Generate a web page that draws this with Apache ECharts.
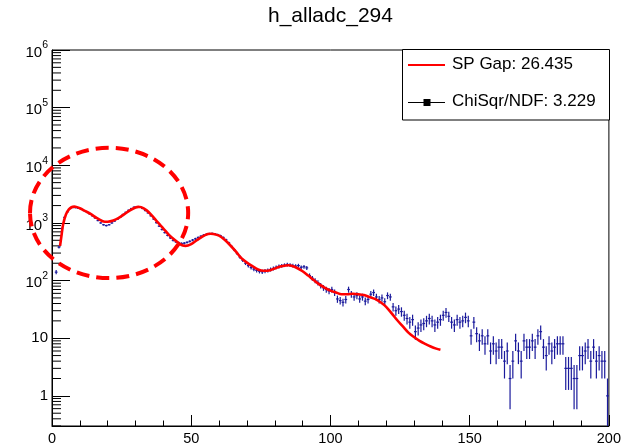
<!DOCTYPE html>
<html>
<head>
<meta charset="utf-8">
<script src="https://cdn.jsdelivr.net/npm/echarts@6/dist/echarts.min.js"></script>
<style>
html, body { margin: 0; padding: 0; background: #fff; }
#chart { width: 624px; height: 446px; }
</style>
</head>
<body>
<div id="chart"></div>
<script>
// histogram h_alladc_294: bins of width 1 starting at 0
const binStart = 0;
const binWidth = 1;
const counts = [
    null, 140, 380, 800, 1250, 1550, 1780, 1850, 1840, 1790,
    1720, 1640, 1550, 1440, 1330, 1220, 1100, 1000, 930, 900,
    930, 1000, 1080, 1160, 1260, 1400, 1530, 1660, 1780, 1880,
    1900, 1870, 1780, 1640, 1490, 1330, 1170, 1010, 880, 770,
    680, 610, 550, 500, 470, 450, 440, 445, 460, 480,
    505, 530, 560, 590, 615, 635, 650, 655, 645, 625,
    600, 560, 510, 450, 390, 340, 295, 255, 225, 200,
    182, 168, 158, 150, 145, 142, 146, 150, 156, 162,
    170, 176, 180, 185, 190, 186, 182, 178, 182, 170,
    174, 166, 122, 110, 100, 92, 82, 75, 70, 66,
    70, 62, 48, 45, 42, 47, 70, 58, 52, 55,
    48, 52, 44, 47, 58, 62, 52, 47, 50, 43,
    55, 52, 35, 30, 32, 29, 25, 22, 19, 21,
    13, 15, 17, 18, 20, 22, 20, 17, 19, 21,
    25, 28, 24, 19, 17, 21, 19, 20, 23, 20,
    11, 19, 12, 9, 11, 8, 11, 6, 8, 6,
    7, 7, 4, 6, 2, 4, 9, 6, 4, 9,
    7, 7, 9, 7, 11, 13, 7, 5, 8, 6,
    7, 8, 8, 8, 3, 3, 3, 2, 2, 5,
    5, 6, 7, 4, 7, 4, 5, 4, 4, 1
];

// fit curve
const fitX = [2.9, 3.5, 4, 5, 6, 7, 8, 9, 10,
    12, 14, 16, 18, 19, 20, 22, 24, 26, 28,
    30, 31, 32, 34, 36, 38, 40, 42, 44, 46,
    47, 48, 50, 52, 54, 56, 57, 58, 60, 62,
    64, 66, 68, 70, 72, 74, 76, 78, 80, 82,
    84, 85, 86, 88, 90, 92, 94, 96, 98, 100,
    102, 104, 106, 108, 110, 112, 114, 116, 118, 120,
    122, 124, 126, 128, 130, 132, 134, 136, 138, 139.5];
const fitY = [400, 650, 950, 1400, 1700, 1870, 1920, 1880, 1800,
    1600, 1420, 1220, 1080, 1050, 1050, 1100, 1220, 1420, 1650,
    1850, 1900, 1880, 1650, 1330, 1020, 800, 620, 510, 430,
    405, 400, 430, 500, 580, 640, 650, 645, 600, 510,
    410, 320, 245, 205, 178, 156, 148, 150, 162, 175,
    183, 184, 180, 165, 145, 122, 102, 86, 75, 67,
    62, 58, 58, 59, 58, 56, 52, 48, 42, 35,
    27, 20.5, 16, 12.5, 10.5, 9, 8, 7.2, 6.6, 6.3];

const xMin = 0, xMax = 200, xStep = 50;
const yMin = 0.3, yMax = 1e6;
const legendTexts = ['SP Gap: 26.435', 'ChiSqr/NDF: 3.229'];

// dashed ellipse marking the first two peaks (centre in data units, radii in x units / decades)
const ellipseCenter = [20.5, 1490];
const ellipseRadius = [28.4, 1.13];

const font = 'Liberation Sans, Arial, Helvetica, sans-serif';
const dataColor = '#1a1a9c';
const fitColor = '#ff0000';

// build series data
const histData = [];
counts.forEach((c, i) => {
    if (c > 0) histData.push([binStart + (i + 0.5) * binWidth, c]);
});
const fitData = fitX.map((x, i) => [x, fitY[i]]);

// minor ticks of the log axis: 2..9 in each decade
const minorTicks = [];
for (let e = -1; e < 6; e++) {
    for (let k = 2; k < 10; k++) {
        const v = k * Math.pow(10, e);
        if (v >= yMin && v < yMax) minorTicks.push([xMin, v]);
    }
}

// error bars (ROOT style crosses, sqrt(N) errors)
const renderErrors = (params, api) => {
    const x = api.value(0), y = api.value(1);
    const err = Math.sqrt(y);
    const top = api.coord([x, y + err]);
    const bot = api.coord([x, Math.max(y - err, yMin)]);
    const left = api.coord([x - binWidth / 2, y]);
    const right = api.coord([x + binWidth / 2, y]);
    const style = { stroke: dataColor, lineWidth: 1.2 };
    return {
        type: 'group',
        children: [
            { type: 'line', shape: { x1: top[0], y1: top[1], x2: bot[0], y2: bot[1] }, style: style },
            { type: 'line', shape: { x1: left[0], y1: left[1], x2: right[0], y2: right[1] }, style: style }
        ]
    };
};

const renderMinorTick = (params, api) => {
    const p = api.coord([api.value(0), api.value(1)]);
    return {
        type: 'line',
        shape: { x1: p[0], y1: p[1], x2: p[0] + 9, y2: p[1] },
        style: { stroke: '#000', lineWidth: 1 }
    };
};

const renderEllipse = (params, api) => {
    const cx = api.value(0), cy = api.value(1);
    const c = api.coord([cx, cy]);
    const r = api.coord([cx + ellipseRadius[0], cy]);
    const t = api.coord([cx, cy * Math.pow(10, ellipseRadius[1])]);
    return {
        type: 'ellipse',
        shape: { cx: c[0], cy: c[1], rx: r[0] - c[0], ry: c[1] - t[1] },
        style: { fill: 'none', stroke: '#ff0000', lineWidth: 4, lineDash: [13, 7] },
        z2: 10
    };
};

// y labels as 10 with a superscript exponent
const logLabel = (v) => {
    const e = Math.round(Math.log10(v));
    if (e === 0) return '{n|1}';
    if (e === 1) return '{n|10}';
    return '{b|10}{s|' + e + '}';
};

const chart = echarts.init(document.getElementById('chart'));
const option = {
    animation: false,
    backgroundColor: '#fff',
    title: {
        text: 'h_alladc_294',
        left: 263,
        top: 1,
        textStyle: { fontFamily: font, fontSize: 21, fontWeight: 'normal', color: '#000' }
    },
    grid: {
        left: 52, right: 15, top: 50, bottom: 19,
        show: true, borderColor: '#000', borderWidth: 1
    },
    xAxis: {
        type: 'value',
        min: xMin, max: xMax, interval: xStep,
        axisLine: { onZero: false, lineStyle: { color: '#000', width: 1 } },
        axisTick: { inside: true, length: 11, lineStyle: { color: '#000' } },
        minorTick: { show: true, splitNumber: 5, length: 5.5, lineStyle: { color: '#000' } },
        axisLabel: { margin: 5, color: '#000', fontSize: 14.5, fontFamily: font },
        splitLine: { show: false }
    },
    yAxis: {
        type: 'log', logBase: 10,
        min: yMin, max: yMax,
        axisLine: { show: true, lineStyle: { color: '#000', width: 1 } },
        axisTick: { show: true, inside: true, length: 18, lineStyle: { color: '#000' } },
        axisLabel: {
            margin: 4,
            showMinLabel: false,
            color: '#000',
            fontFamily: font,
            formatter: logLabel,
            rich: {
                n: { fontSize: 15, fontFamily: font, color: '#000', lineHeight: 16 },
                b: { fontSize: 15, fontFamily: font, color: '#000', lineHeight: 16, verticalAlign: 'bottom' },
                s: { fontSize: 10.5, fontFamily: font, color: '#000', lineHeight: 20, verticalAlign: 'top' }
            }
        },
        splitLine: { show: false }
    },
    series: [
        {
            name: 'minor ticks',
            type: 'custom',
            renderItem: renderMinorTick,
            data: minorTicks,
            silent: true
        },
        {
            name: 'h_alladc_294',
            type: 'custom',
            renderItem: renderErrors,
            data: histData,
            clip: true
        },
        {
            name: legendTexts[0],
            type: 'line',
            data: fitData,
            showSymbol: false,
            smooth: 0.3,
            lineStyle: { color: fitColor, width: 2.6 },
            clip: true
        },
        {
            name: 'marker',
            type: 'custom',
            renderItem: renderEllipse,
            data: [ellipseCenter],
            z: 5
        }
    ],
    graphic: [
        // legend box in the top right corner
        {
            type: 'rect',
            shape: { x: 402.5, y: 49.5, width: 207, height: 70.5 },
            style: { fill: '#fff', stroke: '#000', lineWidth: 1 },
            z: 100
        },
        {
            type: 'line',
            shape: { x1: 408, y1: 65, x2: 445, y2: 65 },
            style: { stroke: fitColor, lineWidth: 2 },
            z: 101
        },
        {
            type: 'text',
            left: 452, top: 56,
            style: { text: legendTexts[0], fontFamily: font, fontSize: 17, fill: '#000' },
            z: 101
        },
        {
            type: 'line',
            shape: { x1: 408, y1: 102.5, x2: 445, y2: 102.5 },
            style: { stroke: '#000', lineWidth: 1 },
            z: 101
        },
        {
            type: 'rect',
            shape: { x: 423.5, y: 99, width: 7, height: 7 },
            style: { fill: '#000' },
            z: 101
        },
        {
            type: 'text',
            left: 452, top: 93,
            style: { text: legendTexts[1], fontFamily: font, fontSize: 17, fill: '#000' },
            z: 101
        }
    ]
};
chart.setOption(option);
</script>
</body>
</html>
